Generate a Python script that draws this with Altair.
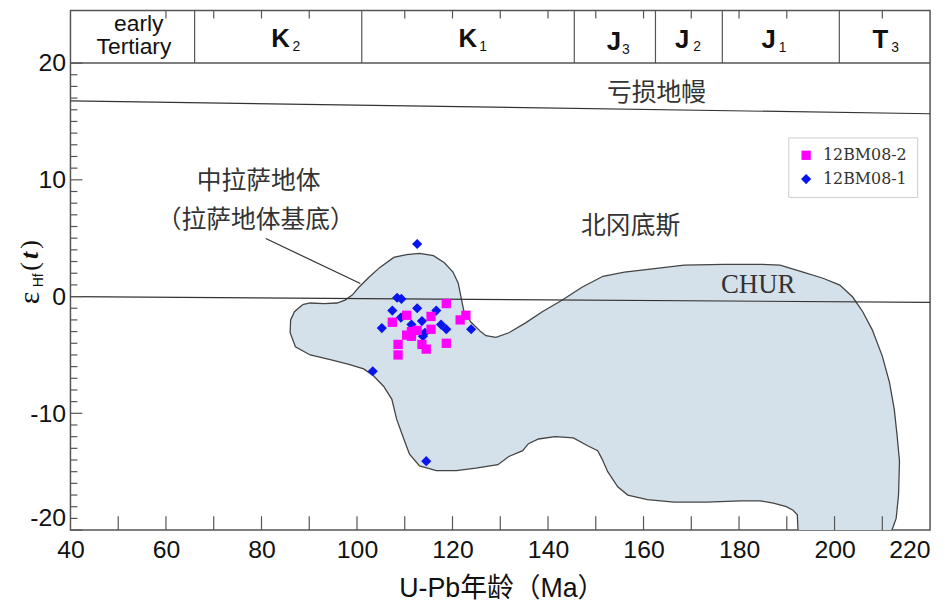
import altair as alt
import pandas as pd

# ---------------- data ----------------
# field polygon of northern Gangdese (Ma, eHf)
poly_x = [88.6, 90.2, 93.1, 95.8, 97.5, 99.0, 100.4, 102.5, 104.8, 107.7, 110.4, 113.1, 116.0, 118.3,
          120.1, 121.2, 121.8, 122.4, 123.9, 125.9, 127.0, 129.1, 131.8, 135.3, 138.8, 143.0, 147.1,
          151.5, 156.0, 162.3, 168.5, 176.8, 184.5, 188.6, 193.4, 197.6, 201.1, 203.8, 205.9, 207.9,
          210.0, 211.5, 212.5, 213.1, 213.6, 213.4, 212.9, 212.3, 211.5,
          192.4, 192.2, 191.3, 189.9, 187.2, 184.5, 180.3, 173.3, 166.4, 160.8, 156.7, 154.6, 152.5,
          151.3, 150.4, 148.4, 145.3, 141.5, 138.0, 135.9, 134.7, 131.8, 129.5, 124.9, 120.8, 116.6,
          113.1, 111.0, 109.8, 108.3, 107.3, 105.6, 103.5, 101.4, 98.3, 94.4, 90.2, 87.1, 86.0, 86.1,
          86.9, 88.6]
poly_y = [-0.7, -0.55, -0.6, -0.55, -0.3, 0.13, 0.8, 1.66, 2.5, 3.35, 3.6, 3.7, 3.5, 2.9,
          2.1, 1.15, -0.1, -1.3, -2.2, -3.0, -3.35, -3.5, -3.1, -2.25, -1.3, -0.3, 0.8,
          1.74, 2.1, 2.4, 2.7, 2.76, 2.76, 2.7, 2.1, 1.57, 0.98, -0.04, -1.3, -2.85,
          -5.1, -7.35, -9.64, -11.9, -14.1, -17.0, -19.0, -19.7, -20.5,
          -20.5, -18.7, -18.3, -18.0, -17.7, -17.5, -17.5, -17.6, -17.6, -17.4, -17.0, -16.3, -15.0,
          -13.9, -13.2, -12.8, -12.1, -12.0, -12.2, -12.6, -13.2, -13.7, -14.4, -14.7, -14.9, -14.9,
          -14.5, -13.5, -12.2, -10.5, -8.8, -7.7, -6.8, -6.2, -5.8, -5.4, -5.0, -4.3, -3.1, -2.0,
          -1.3, -0.7]

# samples
blue_name = "12BM08-1"
blue_x = [112.6, 108.4, 109.3, 107.4, 112.6, 116.6, 109.2, 105.2, 113.6, 111.4, 117.6, 118.7,
          123.9, 113.8, 114.2, 103.3, 114.5]
blue_y = [4.5, -0.1, -0.2, -1.2, -1.0, -1.2, -1.8, -2.7, -2.1, -2.4, -2.4, -2.8,
          -2.8, -3.4, -3.1, -6.4, -14.1]
pink_name = "12BM08-2"
pink_x = [118.7, 110.4, 115.5, 122.8, 121.6, 107.4, 115.5, 112.6, 111.4, 110.4, 111.4, 108.6,
          113.6, 118.7, 114.5, 108.6]
pink_y = [-0.6, -1.6, -1.7, -1.6, -2.0, -2.2, -2.8, -2.9, -3.0, -3.3, -3.4, -4.1,
          -4.1, -4.0, -4.5, -5.0]

# reference lines: depleted mantle, CHUR, leader line
dm_x, dm_y = [40, 220], [16.77, 15.66]
chur_x, chur_y = [40, 220], [0.0, -0.5]
lead_x, lead_y = [80.9, 100.7], [4.97, 1.12]

# labels inside the plot
lab_text = ["亏损地幔", "北冈底斯", "中拉萨地体", "（拉萨地体基底）"]
lab_x = [162.7, 157.3, 79.4, 78.8]
lab_y = [17.45, 6.07, 9.9, 6.58]
chur_text, chur_lx, chur_ly = ["CHUR"], [184.0], [0.98]

# geological time band
band_bounds = [66, 101, 145.5, 162.5, 176.5, 201]
band_y = [20, 24.5]
era_text = ["K", "K", "J", "J", "J", "T"]
era_x = [84.0, 123.2, 153.8, 168.1, 186.2, 209.6]
era_y = [22.04, 22.04, 21.8, 21.96, 21.96, 21.96]
sub_text = ["2", "1", "3", "2", "1", "3"]
sub_x = [87.3, 126.4, 156.3, 171.2, 189.1, 212.7]
sub_y = [21.36, 21.36, 21.1, 21.36, 21.28, 21.28]
tert_text = ["early", "Tertiary"]
tert_x = [54.3, 53.3]
tert_y = [23.36, 21.33]

# axes
x_labels = [40, 60, 80, 100, 120, 140, 160, 180, 200, 220]
x_ticks = [50, 60, 70, 80, 90, 100, 110, 120, 130, 140, 150, 160, 170, 180, 190, 200, 210]
top_ticks = [60, 70, 80, 90, 110, 120, 130, 140, 150, 160, 170, 180, 190, 210]
y_major = [-20, -10, 0, 10, 20]
y_minor = [v for v in range(-19, 20) if v % 10 != 0]

XD = [40, 220]
YD = [-20, 24.5]
W, H = 867, 524
SANS = "Liberation Sans, Arial, Noto Sans CJK SC"
CJK = "Noto Sans CJK SC"
INK = "#333333"


def X(f="x"):
    return alt.X(f + ":Q", scale=alt.Scale(domain=XD, nice=False, zero=False), title=None)


def Y(f="y"):
    return alt.Y(f + ":Q", scale=alt.Scale(domain=YD, nice=False, zero=False), title=None)


# polygon
poly_df = pd.DataFrame({"x": poly_x, "y": poly_y, "o": list(range(len(poly_x)))})
poly = alt.Chart(poly_df).mark_line(
    fill="#d5e1ea", stroke="#444444", strokeWidth=1.3, clip=True, interpolate="linear"
).encode(
    x=alt.X("x:Q", scale=alt.Scale(domain=XD, nice=False, zero=False), title=None,
            axis=alt.Axis(values=x_labels, labelFlush=False, labelPadding=8,
                          labelExpr="datum.value",
                          labelAlign=alt.ExprRef(expr="datum.value == 220 ? 'right' : 'center'"))),
    y=alt.Y("y:Q", scale=alt.Scale(domain=YD, nice=False, zero=False), title=None,
            axis=alt.Axis(values=y_major, labelFlush=True, labelPadding=5,
                          labelExpr="datum.value")),
    order="o:Q",
)

# reference lines
lines_df = pd.DataFrame({
    "x": dm_x + chur_x + lead_x,
    "y": dm_y + chur_y + lead_y,
    "g": ["dm"] * 2 + ["chur"] * 2 + ["lead"] * 2,
})
lines = alt.Chart(lines_df).mark_line(stroke=INK, strokeWidth=1.2).encode(
    x=X(), y=Y(), detail="g:N")

# points (blue first so pink is drawn on top)
pts_df = pd.DataFrame({
    "x": blue_x + pink_x,
    "y": blue_y + pink_y,
    "s": [blue_name] * len(blue_x) + [pink_name] * len(pink_x),
})
leg = dict(title=None, orient="none", legendX=724, legendY=128, strokeColor="#cccccc",
           fillColor="white", padding=10, labelFont="DejaVu Serif", labelFontSize=16,
           labelColor=INK, symbolSize=80, rowPadding=8, labelOffset=9, symbolStrokeWidth=0)
pts = alt.Chart(pts_df).mark_point(filled=True, opacity=1).encode(
    x=X(), y=Y(),
    color=alt.Color("s:N", scale=alt.Scale(domain=[pink_name, blue_name], range=["#ff00ff", "#0a14ee"]),
                    legend=alt.Legend(**leg)),
    shape=alt.Shape("s:N", scale=alt.Scale(domain=[pink_name, blue_name], range=["square", "diamond"]),
                    legend=alt.Legend(**leg)),
    size=alt.Size("s:N", scale=alt.Scale(domain=[pink_name, blue_name], range=[88, 105]), legend=None),
)

# labels
lab_df = pd.DataFrame({"x": lab_x, "y": lab_y, "t": lab_text})
labels = alt.Chart(lab_df).mark_text(font=CJK, fontSize=25, color=INK).encode(
    x=X(), y=Y(), text="t:N")
chur_df = pd.DataFrame({"x": chur_lx, "y": chur_ly, "t": chur_text})
chur_lab = alt.Chart(chur_df).mark_text(font="Liberation Serif", fontSize=27, color=INK).encode(
    x=X(), y=Y(), text="t:N")

# time band
hline_df = pd.DataFrame({"x": [XD[0]], "x2": [XD[1]], "y": [band_y[0]]})
hline = alt.Chart(hline_df).mark_rule(color="#555555", strokeWidth=1.5).encode(
    x=X(), x2="x2:Q", y=Y())
bnd_df = pd.DataFrame({"x": band_bounds, "y": [band_y[0]] * len(band_bounds),
                       "y2": [band_y[1]] * len(band_bounds)})
bounds = alt.Chart(bnd_df).mark_rule(color="#555555", strokeWidth=1.2).encode(
    x=X(), y=Y(), y2="y2:Q")
era_df = pd.DataFrame({"x": era_x, "y": era_y, "t": era_text})
eras = alt.Chart(era_df).mark_text(font=SANS, fontSize=26, fontWeight="bold", color="#111111").encode(
    x=X(), y=Y(), text="t:N")
sub_df = pd.DataFrame({"x": sub_x, "y": sub_y, "t": sub_text})
subs = alt.Chart(sub_df).mark_text(font=SANS, fontSize=14, color="#111111").encode(
    x=X(), y=Y(), text="t:N")
tert_df = pd.DataFrame({"x": tert_x, "y": tert_y, "t": tert_text})
tert = alt.Chart(tert_df).mark_text(font=SANS, fontSize=23, color="#111111").encode(
    x=X(), y=Y(), text="t:N")

# inward ticks
ymaj_df = pd.DataFrame({"y": y_major})
ymaj = alt.Chart(ymaj_df).mark_rule(color="#555555", strokeWidth=1.2).encode(
    y=Y(), x=alt.value(0), x2=alt.value(12))
ymin_df = pd.DataFrame({"y": y_minor})
ymin = alt.Chart(ymin_df).mark_rule(color="#555555", strokeWidth=1.2).encode(
    y=Y(), x=alt.value(0), x2=alt.value(7))
xt_df = pd.DataFrame({"x": x_ticks})
xt = alt.Chart(xt_df).mark_rule(color="#555555", strokeWidth=1.2).encode(
    x=X(), y=alt.value(H), y2=alt.value(H - 14))
tt_df = pd.DataFrame({"x": top_ticks})
tt = alt.Chart(tt_df).mark_rule(color="#555555", strokeWidth=1.2).encode(
    x=X(), y=alt.value(0), y2=alt.value(8))

# axis titles
xtitle = alt.Chart(pd.DataFrame({"t": ["U-Pb年龄（Ma）"]})).mark_text(
    font=SANS, fontSize=27, color="#111111", baseline="alphabetic").encode(
    x=alt.value(435), y=alt.value(592), text="t:N")
ytitle_parts = alt.layer(
    alt.Chart(pd.DataFrame({"t": ["ε"]})).mark_text(
        font="Liberation Serif", fontSize=30, angle=270, color="#111111").encode(
        x=alt.value(-41), y=alt.value(290), text="t:N"),
    alt.Chart(pd.DataFrame({"t": ["Hf"]})).mark_text(
        font=SANS, fontSize=14, angle=270, color="#111111").encode(
        x=alt.value(-32), y=alt.value(272), text="t:N"),
    alt.Chart(pd.DataFrame({"t": ["("]})).mark_text(
        font="Liberation Serif", fontSize=26, angle=270, color="#111111").encode(
        x=alt.value(-41), y=alt.value(258), text="t:N"),
    alt.Chart(pd.DataFrame({"t": ["t"]})).mark_text(
        font="Liberation Serif", fontSize=26, angle=270, fontStyle="italic", fontWeight="bold",
        color="#111111").encode(x=alt.value(-41), y=alt.value(247), text="t:N"),
    alt.Chart(pd.DataFrame({"t": [")"]})).mark_text(
        font="Liberation Serif", fontSize=26, angle=270, color="#111111").encode(
        x=alt.value(-41), y=alt.value(236), text="t:N"),
)

chart = alt.layer(
    poly, lines, ymaj, ymin, xt, tt, hline, bounds, eras, subs, tert,
    labels, chur_lab, pts, xtitle, ytitle_parts,
).properties(
    width=W, height=H, autosize="none",
    padding={"left": 63, "top": 0, "right": 7, "bottom": 70},
).configure_view(
    stroke="#555555", strokeWidth=1.5,
).configure_axis(
    domain=False, ticks=False, grid=False, labelFont=SANS, labelFontSize=25, labelColor="#111111",
)

chart.save("out.html", embed_options={"renderer": "svg", "actions": False})
